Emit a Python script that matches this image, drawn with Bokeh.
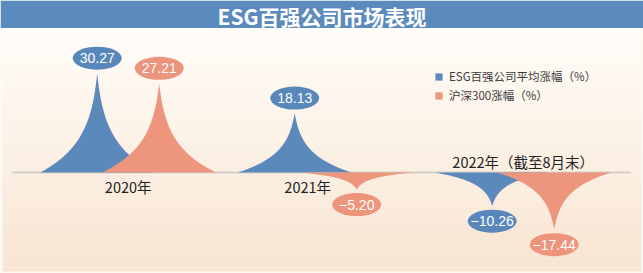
import numpy as np
from bokeh.plotting import figure
from bokeh.models import Range1d, Legend, LegendItem
from bokeh.embed import file_html
from bokeh.resources import INLINE
from bokeh.core.properties import value

# ---------------- data ----------------
title_text = "ESG百强公司市场表现"
years = ["2020年", "2021年", "2022年（截至8月末）"]
esg = [30.27, 18.13, -10.26]
hs300 = [27.21, -5.20, -17.44]
series_names = ["ESG百强公司平均涨幅（%）", "沪深300涨幅（%）"]

# ---------------- layout / style ----------------
W, H = 643, 273
BASE_PX = 172          # baseline, px from top
PX_PCT = 3.28          # px per percent
PX_YEAR = 197.5        # px between year groups
FIRST_PX = 127.7       # px of first group centre
SERIES_OFF_PX = 31     # dodge of each series
HALF_W_PX = 57         # spike half width
BUBBLE_GAP_PX = 15
SPIKE_DECAY = 3.2
BLUE, ORANGE = "#5b89bc", "#ee967d"
BLUE_B, ORANGE_B = "#5a87ba", "#ec947c"
FONT_CJK = "Noto Sans CJK SC"

x0 = -FIRST_PX / PX_YEAR
x1 = (W - FIRST_PX) / PX_YEAR
y0 = -(H - BASE_PX) / PX_PCT
y1 = BASE_PX / PX_PCT


def px_x(px):
    return x0 + px / PX_YEAR


def px_y(py):
    return y1 - py / PX_PCT


def dxu(px):
    return px / PX_YEAR


def dyu(px):
    return px / PX_PCT


# spike outline: relative height hh (0 base .. 1 tip), relative half width ww
hh = np.linspace(0, 1, 120)
ww = np.exp(-SPIKE_DECAY * hh) - hh * np.exp(-SPIKE_DECAY)


def spike(cx, v, hw):
    xs = np.concatenate([cx + ww * hw, (cx - ww * hw)[::-1]])
    ys = np.concatenate([v * hh, (v * hh)[::-1]])
    return xs.tolist(), ys.tolist()


p = figure(width=W, height=H, x_range=Range1d(x0, x1), y_range=Range1d(y0, y1),
           toolbar_location=None, output_backend="svg", min_border=0,
           x_axis_location=None, y_axis_location=None,
           outline_line_color=None, background_fill_color="#fdf8f1",
           border_fill_color="#fdf8f1")
p.grid.grid_line_color = None

# gradient background
top_c = np.array([0xff, 0xfd, 0xf9])
bot_c = np.array([0xf8, 0xe4, 0xd0])
N = 60
edges = np.linspace(28, 271, N + 1)
cols = []
for i in range(N):
    f = i / (N - 1)
    c = (top_c * (1 - f) + bot_c * f).round().astype(int)
    cols.append("#%02x%02x%02x" % tuple(c))
p.quad(left=[px_x(2)] * N, right=[px_x(641)] * N,
       top=[px_y(e) for e in edges[:-1]], bottom=[px_y(e) for e in edges[1:]],
       fill_color=cols, line_color=None)

# banner
p.quad(left=[x0], right=[x1], top=[y1], bottom=[px_y(27.5)], fill_color="#5b8abd", line_color=None)
p.text(x=[px_x(321.5)], y=[px_y(15)], text=[title_text], text_color="white",
       text_font=value(FONT_CJK), text_font_style="bold", text_font_size="21px",
       text_align="center", text_baseline="middle")

# baseline
p.line([px_x(12), px_x(630)], [0, 0], line_color="#d3cec8", line_width=2)

renderers = []
for vals, sign, col in ((esg, -1, BLUE), (hs300, 1, ORANGE)):
    xs_all, ys_all = [], []
    for i, v in enumerate(vals):
        xs, ys = spike(i + sign * dxu(SERIES_OFF_PX), v, dxu(HALF_W_PX))
        xs_all.append(xs)
        ys_all.append(ys)
    r = p.patches(xs=xs_all, ys=ys_all, fill_color=col, line_color=None)
    renderers.append(r)

for vals, sign, col in ((esg, -1, BLUE_B), (hs300, 1, ORANGE_B)):
    bx = [i + sign * dxu(SERIES_OFF_PX) for i in range(len(vals))]
    by = [v + (dyu(BUBBLE_GAP_PX) if v >= 0 else -dyu(BUBBLE_GAP_PX)) for v in vals]
    p.ellipse(x=bx, y=by, width=49, height=23, width_units="screen", height_units="screen",
              fill_color=col, line_color=None)
    labels = [("%.2f" % v).replace("-", "−") for v in vals]
    p.text(x=bx, y=by, text=labels, text_color="white", text_font=value("Liberation Sans"),
           text_font_size="14px", text_align="center", text_baseline="middle")

# year labels
label_dx_px = [0, -18, 0]
lx, ly = [], []
for i in range(len(years)):
    lx.append(i + dxu(label_dx_px[i]))
    if esg[i] < 0 and hs300[i] < 0:
        ly.append(dyu(11))
    else:
        ly.append(-dyu(13.5))
p.text(x=lx, y=ly, text=years, text_color="#222222", text_font=value(FONT_CJK),
       text_font_size="14.5px", text_align="center", text_baseline="middle")

legend = Legend(items=[LegendItem(label=series_names[0], renderers=[renderers[0]]),
                       LegendItem(label=series_names[1], renderers=[renderers[1]])],
                location=(434, H - 103), glyph_width=9, glyph_height=9, label_height=13,
                spacing=3, padding=0, margin=0, label_standoff=6,
                label_text_font=FONT_CJK, label_text_font_size="11.5px",
                label_text_color="#3a3a3a", background_fill_alpha=0, border_line_alpha=0)
p.add_layout(legend)

open("out.html", "w").write(file_html(p, INLINE))
